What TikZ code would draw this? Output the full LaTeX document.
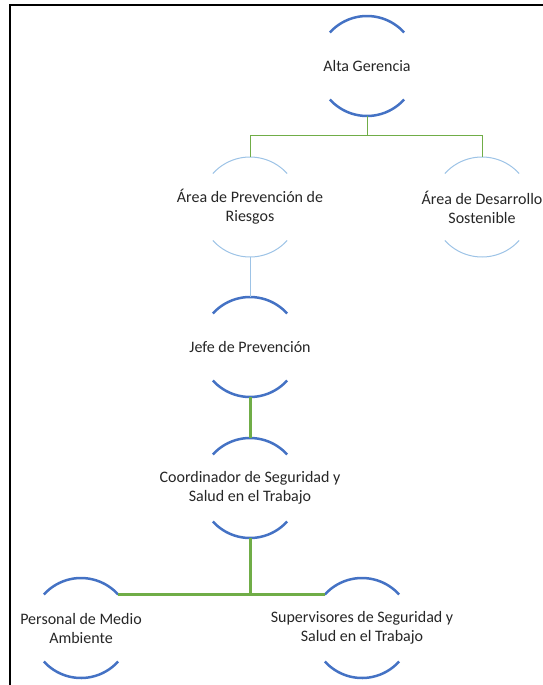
\documentclass[tikz,border=0pt]{standalone}
\usepackage{fontspec}
\setmainfont{Carlito}
\usetikzlibrary{positioning}
\definecolor{arcblue}{HTML}{4472C4}
\definecolor{paleblue}{HTML}{9DC3E6}
\definecolor{leafgreen}{HTML}{70AD47}
\definecolor{inkgray}{HTML}{262626}
\newcommand*{\CircleArcs}[2]{%
  \coordinate (#1-top) at ([yshift=50pt]#1.center);
  \coordinate (#1-bot) at ([yshift=-50pt]#1.center);
  \coordinate (#1-ne) at ([shift={(42:50pt)}]#1.center);
  \coordinate (#1-nw) at ([shift={(138:50pt)}]#1.center);
  \draw[#2] (#1-ne) arc[start angle=42,end angle=138,radius=50pt];
  \draw[#2] ([shift={(222:50pt)}]#1.center) arc[start angle=222,end angle=318,radius=50pt];}

\begin{document}
\begin{tikzpicture}[x=1pt,y=1pt,
    orgtext/.style={align=center, inner sep=0pt, text=inkgray,
        font=\fontsize{16}{19}\selectfont},
    strongarc/.style={draw=arcblue, line width=2.5pt},
    softarc/.style={draw=paleblue, line width=1pt},
    thinlink/.style={draw=leafgreen, line width=1pt},
    boldlink/.style={draw=leafgreen, line width=3pt},
    palelink/.style={draw=paleblue, line width=1pt}]
\useasboundingbox (0,0) rectangle (542,-685);

% Frame
\draw[line width=2.5pt] (10,-700) -- (10,-5) -- (560,-5);

% Top level
\node[orgtext] (alta) at (367,-66) {Alta Gerencia};
\CircleArcs{alta}{strongarc}

% Areas
\node[orgtext] (prev) at (250,-207) {Área de Prevención de\\Riesgos};
\CircleArcs{prev}{softarc}
\node[orgtext] (sost) at (482,-207) {Área de Desarrollo\\Sostenible};
\CircleArcs{sost}{softarc}

% Chain of prevention
\node[orgtext] (jefe) at (250,-347) {Jefe de Prevención};
\CircleArcs{jefe}{strongarc}
\node[orgtext] (coord) at (250,-488) {Coordinador de Seguridad y\\Salud en el Trabajo};
\CircleArcs{coord}{strongarc}

% Bottom level
\node[orgtext] (medio) at (81,-628) {Personal de Medio\\Ambiente};
\CircleArcs{medio}{strongarc}
\node[orgtext] (superv) at (362,-628) {Supervisores de Seguridad y\\Salud en el Trabajo};
\CircleArcs{superv}{strongarc}

% Connectors
\coordinate[below=19pt of alta-bot] (fork);
\draw[thinlink] (alta-bot) -- (fork) -| (prev-top);
\draw[thinlink] (fork) -| (sost-top);
\draw[palelink] (prev-bot) -- (jefe-top);
\draw[boldlink] (jefe-bot) -- (coord-top);
\draw[boldlink] (coord-bot) |- (medio-ne);
\draw[boldlink] (coord-bot) |- (superv-nw);

\end{tikzpicture}
\end{document}
